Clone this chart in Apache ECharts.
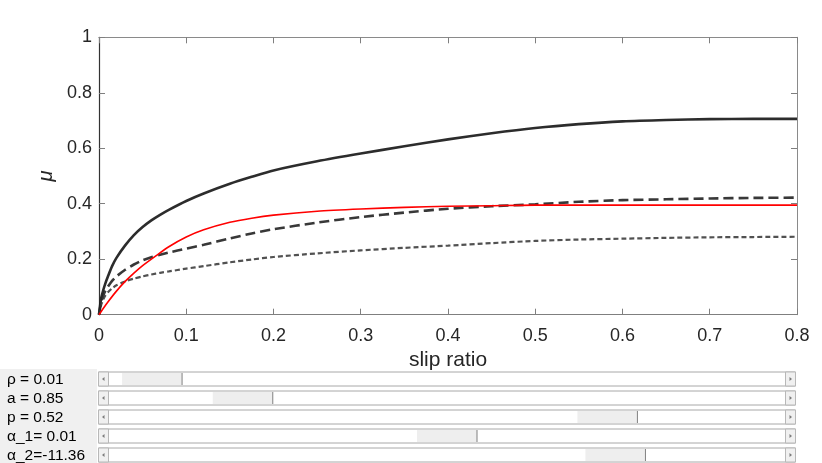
<!DOCTYPE html>
<html>
<head>
<meta charset="utf-8">
<script src="https://cdn.jsdelivr.net/npm/echarts@6/dist/echarts.min.js"></script>
<style>
html,body{margin:0;padding:0;background:#fff;}
#c{width:822px;height:463px;}
</style>
</head>
<body>
<div id="c"></div>
<script>
// ---- data ----
const xTicks = [0, 0.1, 0.2, 0.3, 0.4, 0.5, 0.6, 0.7, 0.8];
const yTicks = [0, 0.2, 0.4, 0.6, 0.8, 1];
const slipX    = [0, 0.0025, 0.005, 0.0075, 0.01, 0.015, 0.02, 0.03, 0.04, 0.05, 0.06, 0.07, 0.08, 0.1, 0.12, 0.15, 0.175, 0.2, 0.25, 0.3, 0.35, 0.4, 0.45, 0.5, 0.55, 0.6, 0.65, 0.7, 0.75, 0.8];
const muSolid  = [0, 0.06, 0.09, 0.115, 0.136, 0.175, 0.205, 0.25, 0.287, 0.316, 0.34, 0.36, 0.378, 0.41, 0.437, 0.472, 0.497, 0.52, 0.553, 0.581, 0.607, 0.632, 0.654, 0.673, 0.687, 0.697, 0.702, 0.705, 0.706, 0.706];
const muDashed = [0, 0.045, 0.07, 0.088, 0.1, 0.122, 0.138, 0.162, 0.181, 0.196, 0.207, 0.216, 0.224, 0.238, 0.252, 0.275, 0.293, 0.308, 0.332, 0.352, 0.368, 0.382, 0.391, 0.398, 0.407, 0.413, 0.416, 0.419, 0.421, 0.422];
const muDotted = [0, 0.035, 0.055, 0.07, 0.08, 0.095, 0.106, 0.12, 0.13, 0.138, 0.145, 0.151, 0.156, 0.166, 0.175, 0.189, 0.199, 0.208, 0.221, 0.232, 0.241, 0.249, 0.258, 0.266, 0.271, 0.274, 0.277, 0.279, 0.28, 0.281];
const redX  = [0, 0.005, 0.01, 0.02, 0.03, 0.04, 0.05, 0.066, 0.08, 0.1, 0.12, 0.15, 0.175, 0.2, 0.25, 0.3, 0.35, 0.4, 0.45, 0.5, 0.6, 0.7, 0.8];
const muRed = [0, 0.023, 0.045, 0.085, 0.12, 0.15, 0.177, 0.214, 0.245, 0.28, 0.306, 0.333, 0.348, 0.359, 0.373, 0.381, 0.387, 0.391, 0.393, 0.395, 0.395, 0.395, 0.395];
const sliderLabels = ['ρ = 0.01', 'a = 0.85', 'p = 0.52', 'α_1= 0.01', 'α_2=-11.36'];
const sliderPos = [0.022, 0.169, 0.76, 0.50, 0.773];

const FONT = '"Liberation Sans", Arial, Helvetica, sans-serif';
const pair = (xs, ys) => xs.map((x, i) => [x, ys[i]]);

// ---- sliders (graphic) ----
const graphics = [];
graphics.push({type:'rect', shape:{x:0, y:369, width:97, height:94}, style:{fill:'#f0f0f0'}, silent:true});
const sx0 = 98.5, sx1 = 795.5, btnW = 10, thumbW = 60, rowH = 14, rowPitch = 19, rowTop = 372;
sliderLabels.forEach((lab, i) => {
  const top = rowTop + i * rowPitch;
  graphics.push({type:'text', style:{text:lab, x:7, y:top + 7.5, fill:'#000', font:'15.5px ' + FONT, verticalAlign:'middle'}});
  graphics.push({type:'rect', shape:{x:sx0, y:top, width:sx1 - sx0, height:rowH}, style:{fill:'#fff', stroke:'#a8a8a8', lineWidth:1}});
  graphics.push({type:'rect', shape:{x:sx0, y:top, width:btnW, height:rowH}, style:{fill:'#f0f0f0', stroke:'#b8b8b8', lineWidth:1}});
  graphics.push({type:'polygon', shape:{points:[[sx0+3.5, top+7], [sx0+6, top+5], [sx0+6, top+9]]}, style:{fill:'#7a7a7a'}});
  graphics.push({type:'rect', shape:{x:sx1 - btnW, y:top, width:btnW, height:rowH}, style:{fill:'#f0f0f0', stroke:'#b8b8b8', lineWidth:1}});
  graphics.push({type:'polygon', shape:{points:[[sx1-3.5, top+7], [sx1-6, top+5], [sx1-6, top+9]]}, style:{fill:'#7a7a7a'}});
  const tStart = sx0 + btnW + sliderPos[i] * (sx1 - sx0 - 2 * btnW - thumbW);
  graphics.push({type:'rect', shape:{x:tStart, y:top + 1, width:thumbW, height:rowH - 2}, style:{fill:'#eeeeee'}});
  graphics.push({type:'line', shape:{x1:tStart + thumbW, y1:top + 1, x2:tStart + thumbW, y2:top + rowH - 1}, style:{stroke:'#808080', lineWidth:1}});
});

const chart = echarts.init(document.getElementById('c'), null, {renderer:'canvas'});
const tickInside = {show:true, inside:true, length:6, lineStyle:{color:'#7f7f7f', width:1}};
chart.setOption({
  animation:false,
  backgroundColor:'#fff',
  grid:{left:99, right:25, top:37.3, bottom:148.3, containLabel:false},
  xAxis:[{
    type:'value', min:0, max:0.8, interval:0.1,
    name:'slip ratio', nameLocation:'middle', nameGap:34,
    nameTextStyle:{fontFamily:FONT, fontSize:21, color:'#262626'},
    axisLine:{show:true, onZero:false, lineStyle:{color:'#7f7f7f', width:1}},
    axisTick:tickInside,
    axisLabel:{fontFamily:FONT, fontSize:18, color:'#262626', margin:12, formatter:v => String(+v.toFixed(1))},
    splitLine:{show:false}
  },{
    type:'value', position:'top', min:0, max:0.8, interval:0.1,
    axisLine:{show:true, onZero:false, lineStyle:{color:'#8a8a8a', width:1}},
    axisTick:tickInside, axisLabel:{show:false}, splitLine:{show:false}
  }],
  yAxis:[{
    type:'value', min:0, max:1, interval:0.2,
    name:'μ', nameLocation:'middle', nameGap:35, nameRotate:90,
    nameTextStyle:{fontFamily:FONT, fontSize:20, fontStyle:'italic', color:'#262626'},
    axisLine:{show:true, onZero:false, lineStyle:{color:'#333', width:1.2}},
    axisTick:tickInside,
    axisLabel:{fontFamily:FONT, fontSize:18, color:'#262626', margin:7, formatter:v => String(+v.toFixed(1))},
    splitLine:{show:false}
  },{
    type:'value', position:'right', min:0, max:1, interval:0.2,
    axisLine:{show:true, onZero:false, lineStyle:{color:'#8a8a8a', width:1}},
    axisTick:tickInside, axisLabel:{show:false}, splitLine:{show:false}
  }],
  series:[
    {type:'line', data:pair(slipX, muSolid), showSymbol:false, smooth:0.25,
     lineStyle:{color:'#1a1a1a', width:2.6, opacity:0.92, join:'round'}},
    {type:'line', data:pair(slipX, muDashed), showSymbol:false, smooth:0.25,
     lineStyle:{color:'#222', width:2.6, type:[10,5], opacity:0.9}},
    {type:'line', data:pair(slipX, muDotted), showSymbol:false, smooth:0.25,
     lineStyle:{color:'#333', width:2.2, type:[5,3], opacity:0.85}},
    {type:'line', data:pair(redX, muRed), showSymbol:false, smooth:0.25,
     lineStyle:{color:'#ff0000', width:1.6, join:'round'}}
  ],
  graphic:graphics
});
</script>
</body>
</html>
